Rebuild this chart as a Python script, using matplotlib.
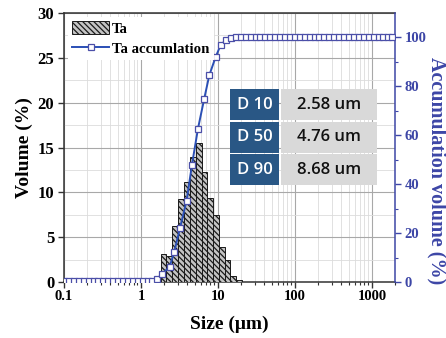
import matplotlib
matplotlib.use("Agg")
import matplotlib.pyplot as plt
from matplotlib.ticker import LogLocator, NullFormatter, FixedLocator, MultipleLocator

plt.rcParams["hatch.color"] = "#3a3a3a"
plt.rcParams["hatch.linewidth"] = 0.9

# Particle size distribution (volume % per size class)
bin_edges = [1.80, 2.13, 2.55, 3.02, 3.59, 4.29, 5.13, 6.14, 7.26, 8.61,
             10.3, 12.2, 14.5, 17.3, 20.5]
volume_pct = [3.1, 2.9, 6.2, 9.3, 11.2, 13.9, 15.5, 12.3, 9.4, 7.5,
              3.9, 2.4, 0.7, 0.2]

# Cumulative volume curve
cum_size = [0.10, 0.116, 0.134, 0.156, 0.18, 0.209, 0.242, 0.28, 0.325, 0.376,
            0.436, 0.505, 0.585, 0.678, 0.785, 0.91, 1.05, 1.22, 1.41, 1.62,
            1.89, 2.36, 2.71, 3.21, 3.92, 4.60, 5.50, 6.64, 7.71, 9.33,
            10.8, 12.6, 14.8, 17.1, 19.8, 23.0, 26.6, 30.8, 35.7, 41.3,
            47.9, 55.5, 64.3, 74.5, 86.3, 100, 116, 134, 155, 180,
            208, 241, 280, 324, 375, 435, 504, 584, 676, 783,
            907, 1050, 1220, 1410, 1630, 1800]
cum_pct = [0.5, 0.5, 0.5, 0.5, 0.5, 0.5, 0.5, 0.5, 0.5, 0.5,
           0.5, 0.5, 0.5, 0.5, 0.5, 0.5, 0.5, 0.5, 0.5, 1.4,
           3.3, 6.3, 12.4, 22.0, 33.3, 48.0, 62.7, 75.0, 84.5, 92.0,
           96.8, 98.9, 99.7, 100, 100, 100, 100, 100, 100, 100,
           100, 100, 100, 100, 100, 100, 100, 100, 100, 100,
           100, 100, 100, 100, 100, 100, 100, 100, 100, 100,
           100, 100, 100, 100, 100, 100]

# Characteristic diameters
d_labels = ["D 10", "D 50", "D 90"]
d_values = ["2.58 um", "4.76 um", "8.68 um"]

blue = "#2a4fb5"
axis_blue = "#3d46a6"
serif = ["Liberation Serif", "DejaVu Serif"]

fig = plt.figure(figsize=(4.46, 3.38), dpi=100)
ax = fig.add_axes([0.1435, 0.1657, 0.7423, 0.7958])
ax2 = ax.twinx()

ax.set_xscale("log")
ax.set_xlim(0.1, 2000)
ax.set_ylim(0, 30)

lefts = bin_edges[:-1]
widths = [b - a for a, b in zip(bin_edges[:-1], bin_edges[1:])]
bars = ax.bar(lefts, volume_pct, width=widths, align="edge",
              facecolor="#c4c4c4", edgecolor="#1a1a1a", linewidth=0.7,
              hatch="\\\\\\\\\\\\", zorder=3, label="Ta")

line, = ax2.plot(cum_size, cum_pct, color=blue, linewidth=1.4,
                 marker="s", markersize=3.8, markerfacecolor="white",
                 markeredgecolor="#4b4fa8", markeredgewidth=0.9,
                 label="Ta accumlation", zorder=4)
ax2.set_ylim(0, 110)

# grids
ax.xaxis.set_major_locator(LogLocator(base=10, numticks=10))
ax.xaxis.set_minor_locator(LogLocator(base=10, subs=range(2, 10), numticks=20))
ax.xaxis.set_minor_formatter(NullFormatter())
ax.set_xticks([0.1, 1, 10, 100, 1000])
ax.set_xticklabels(["0.1", "1", "10", "100", "1000"])
ax.yaxis.set_major_locator(MultipleLocator(5))
ax.yaxis.set_minor_locator(MultipleLocator(2.5))
ax.grid(which="major", color="#a8a8a8", linewidth=0.8, zorder=0)
ax.grid(which="minor", color="#dcdcdc", linewidth=0.6, zorder=0)
ax.set_axisbelow(True)

ax2.yaxis.set_major_locator(FixedLocator([0, 20, 40, 60, 80, 100]))
ax2.yaxis.set_minor_locator(FixedLocator([10, 30, 50, 70, 90]))

for lab in ax.get_yticklabels():
    lab.set_fontfamily(serif)
    lab.set_fontweight("bold")
    lab.set_fontsize(12)
for lab in ax.get_xticklabels():
    lab.set_fontfamily(serif)
    lab.set_fontweight("bold")
    lab.set_fontsize(10.5)
for lab in ax2.get_yticklabels():
    lab.set_fontfamily(serif)
    lab.set_fontweight("bold")
    lab.set_fontsize(10.5)
    lab.set_color(axis_blue)

ax.tick_params(axis="both", which="major", direction="out", length=4, width=1.0,
               color="#333333", pad=2)
ax.tick_params(axis="both", which="minor", direction="out", length=2, width=0.8,
               color="#333333")
ax.tick_params(axis="y", which="minor", length=0)
ax.tick_params(axis="y", which="major", pad=3)
ax2.tick_params(axis="y", which="major", direction="out", length=4, width=1.0,
                color=axis_blue, pad=3)
ax2.tick_params(axis="y", which="minor", direction="out", length=2.5, width=0.8,
                color=axis_blue)

for side in ["left", "bottom", "top"]:
    ax.spines[side].set_color("#333333")
    ax.spines[side].set_linewidth(1.1)
    ax2.spines[side].set_visible(False)
ax.spines["right"].set_visible(False)
ax2.spines["right"].set_color(axis_blue)
ax2.spines["right"].set_linewidth(1.1)

ax.set_xlabel("Size (\u03bcm)", fontfamily=serif, fontweight="bold",
              fontsize=14, labelpad=9)
ax.set_ylabel("Volume (%)", fontfamily=serif, fontweight="bold",
              fontsize=14, labelpad=3)
ax2.set_ylabel("Accumulation volume (%)", fontfamily=serif, fontweight="bold",
               fontsize=14.5, color=axis_blue, rotation=270)
ax2.yaxis.label.set_va("center")
ax2.yaxis.label.set_ha("center")
ax2.yaxis.set_label_coords(1.125, 0.415)

leg = ax2.legend([bars, line], ["Ta", "Ta accumlation"], loc="upper left",
                 bbox_to_anchor=(0.0, 1.0), frameon=True, fancybox=False,
                 prop={"family": serif, "weight": "bold", "size": 10.7},
                 handlelength=2.5, handleheight=1.0, handletextpad=0.2,
                 borderaxespad=0.25, labelspacing=0.35, borderpad=0.3)
leg.get_frame().set_facecolor("white")
leg.get_frame().set_edgecolor("none")
leg.get_frame().set_alpha(1.0)

# D-value table
x0, x1, x2 = 0.502, 0.655, 0.946
row_top = 0.716
row_h = 0.121
gap = 0.006
for i, (lab, val) in enumerate(zip(d_labels, d_values)):
    y_top = row_top - i * row_h
    y_bot = y_top - row_h + gap
    ax2.add_patch(plt.Rectangle((x0, y_bot), x1 - x0 - gap, y_top - y_bot,
                                transform=ax2.transAxes, facecolor="#295785",
                                edgecolor="none", zorder=6))
    ax2.add_patch(plt.Rectangle((x1, y_bot), x2 - x1, y_top - y_bot,
                                transform=ax2.transAxes, facecolor="#d9d9d9",
                                edgecolor="none", zorder=6))
    yc = (y_top + y_bot) / 2
    ax2.text((x0 + x1 - gap) / 2, yc, lab, transform=ax2.transAxes,
             ha="center", va="center", color="white", fontsize=12,
             fontfamily="Open Sans", fontweight="semibold", zorder=7)
    ax2.text((x1 + x2) / 2, yc, val, transform=ax2.transAxes,
             ha="center", va="center", color="#111111", fontsize=12,
             fontfamily="Open Sans", fontweight="semibold", zorder=7)

fig.savefig("out.png", dpi=100)
